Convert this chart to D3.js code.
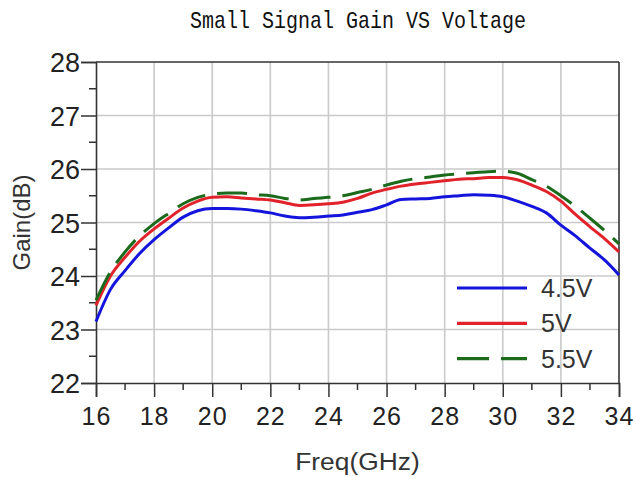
<!DOCTYPE html>
<html>
<head>
<meta charset="utf-8">
<script src="https://cdn.jsdelivr.net/npm/d3@7"></script>
<style>
  body { margin: 0; background: #fff; }
  svg { display: block; }
</style>
</head>
<body>
<div id="chart"></div>
<script>
// data
const freq = [16, 16.5, 17, 17.5, 18, 18.5, 19, 19.5, 20, 20.5, 21, 21.5, 22, 22.5, 23, 23.5, 24, 24.5, 25, 25.5,
              26, 26.5, 27, 27.5, 28, 28.5, 29, 29.5, 30, 30.5, 31, 31.5, 32, 32.5, 33, 33.5, 34];
const gain45 = [23.15, 23.75, 24.1, 24.42, 24.68, 24.9, 25.1, 25.22, 25.26, 25.26, 25.25, 25.22, 25.18, 25.12, 25.09, 25.1, 25.12, 25.14, 25.19, 25.24,
                25.33, 25.43, 25.44, 25.45, 25.48, 25.5, 25.52, 25.51, 25.48, 25.4, 25.3, 25.18, 24.95, 24.75, 24.52, 24.3, 24.02];
const gain5 = [23.45, 24.0, 24.35, 24.65, 24.88, 25.08, 25.27, 25.4, 25.47, 25.48, 25.46, 25.44, 25.42, 25.37, 25.32, 25.33, 25.35, 25.38, 25.45, 25.55,
               25.62, 25.68, 25.72, 25.75, 25.78, 25.81, 25.82, 25.84, 25.84, 25.8, 25.7, 25.58, 25.4, 25.15, 24.92, 24.7, 24.45];
const gain55 = [23.55, 24.08, 24.45, 24.75, 24.98, 25.17, 25.35, 25.47, 25.53, 25.55, 25.55, 25.52, 25.5, 25.45, 25.42, 25.45, 25.47, 25.5, 25.56, 25.62,
                25.7, 25.77, 25.82, 25.85, 25.89, 25.91, 25.93, 25.95, 25.96, 25.92, 25.8, 25.68, 25.5, 25.3, 25.08, 24.85, 24.6];
const seriesNames = ["4.5V", "5V", "5.5V"];
const xTicks = d3.range(16, 35, 2);
const yTicks = d3.range(22, 29, 1);

const width = 636, height = 477;
const margin = {top: 62, right: 17, bottom: 94, left: 96};
const innerW = width - margin.left - margin.right;
const innerH = height - margin.top - margin.bottom;
const font = "Liberation Sans, Arial, sans-serif";

const svg = d3.select("#chart").append("svg")
    .attr("width", width)
    .attr("height", height);

const x = d3.scaleLinear().domain([16, 34]).range([0, innerW]);
const y = d3.scaleLinear().domain([22, 28]).range([innerH, 0]);

const g = svg.append("g").attr("transform", `translate(${margin.left},${margin.top})`);

// grid
g.append("g").selectAll("line").data(xTicks.slice(1, -1)).join("line")
    .attr("x1", d => x(d)).attr("x2", d => x(d))
    .attr("y1", 0).attr("y2", innerH)
    .attr("stroke", "#cacaca").attr("stroke-width", 1.6);
g.append("g").selectAll("line").data(yTicks.slice(1, -1)).join("line")
    .attr("x1", 0).attr("x2", innerW)
    .attr("y1", d => y(d)).attr("y2", d => y(d))
    .attr("stroke", "#cacaca").attr("stroke-width", 1.6);

// minor ticks
g.append("g").selectAll("line").data(d3.range(17, 34, 2)).join("line")
    .attr("x1", d => x(d)).attr("x2", d => x(d))
    .attr("y1", innerH).attr("y2", innerH + 7)
    .attr("stroke", "#333").attr("stroke-width", 1.5);
g.append("g").selectAll("line").data(d3.range(22.5, 28, 1)).join("line")
    .attr("x1", -7).attr("x2", 0)
    .attr("y1", d => y(d)).attr("y2", d => y(d))
    .attr("stroke", "#333").attr("stroke-width", 1.5);

// axes
const xAxis = g.append("g").attr("transform", `translate(0,${innerH})`)
    .call(d3.axisBottom(x).tickValues(xTicks).tickSize(14).tickPadding(10).tickFormat(d3.format("d")));
const yAxis = g.append("g")
    .call(d3.axisLeft(y).tickValues(yTicks).tickSize(15).tickPadding(1).tickFormat(d3.format("d")));

[xAxis, yAxis].forEach(a => {
    a.select(".domain").attr("stroke", "#333").attr("stroke-width", 1.6);
    a.selectAll(".tick line").attr("stroke", "#333").attr("stroke-width", 1.5);
    a.selectAll("text").attr("fill", "#222").style("font-family", font);
});
xAxis.selectAll("text").style("font-size", "25px").style("letter-spacing", "1px");
yAxis.selectAll("text").style("font-size", "27px").attr("dy", "0.36em");

// frame top/right
g.append("line").attr("x1", 0).attr("x2", innerW).attr("y1", 0).attr("y2", 0)
    .attr("stroke", "#333").attr("stroke-width", 1.6);
g.append("line").attr("x1", innerW).attr("x2", innerW).attr("y1", 0).attr("y2", innerH)
    .attr("stroke", "#333").attr("stroke-width", 1.6);

// curves
const series = [
    {name: seriesNames[0], values: gain45, color: "#1414dc", dash: null},
    {name: seriesNames[1], values: gain5, color: "#e2222a", dash: null},
    {name: seriesNames[2], values: gain55, color: "#1c6b1c", dash: "30,12"}
];
const line = d3.line()
    .x((d, i) => x(freq[i]))
    .y(d => y(d))
    .curve(d3.curveMonotoneX);

g.append("g").selectAll("path").data(series).join("path")
    .attr("d", d => line(d.values))
    .attr("fill", "none")
    .attr("stroke", d => d.color)
    .attr("stroke-width", 3)
    .attr("stroke-dasharray", d => d.dash);

// legend
const legend = g.append("g").attr("transform", `translate(${457 - margin.left},${288 - margin.top})`);
series.forEach((s, i) => {
    const row = legend.append("g").attr("transform", `translate(0,${i * 35.3})`);
    row.append("line").attr("x1", 0).attr("x2", 70).attr("y1", 0).attr("y2", 0)
        .attr("stroke", s.color).attr("stroke-width", 3.2)
        .attr("stroke-dasharray", s.dash ? "32,12" : null);
    row.append("text").attr("x", 84).attr("y", 0).attr("dy", "0.36em")
        .attr("fill", "#333")
        .style("font-family", font)
        .style("font-size", "25px")
        .text(s.name);
});

// axis titles
svg.append("text")
    .attr("transform", `translate(${margin.left + innerW / 2},470) scale(1.1,1)`)
    .attr("text-anchor", "middle").attr("fill", "#333")
    .style("font-family", font)
    .style("font-size", "24px")
    .text("Freq(GHz)");
svg.append("text")
    .attr("transform", `translate(30,${margin.top + innerH / 2}) rotate(-90)`)
    .attr("text-anchor", "middle").attr("fill", "#333")
    .style("font-family", font)
    .style("font-size", "24px")
    .text("Gain(dB)");

// title
svg.append("text")
    .attr("transform", "translate(358,28) scale(1,1.2)")
    .attr("text-anchor", "middle").attr("fill", "#111")
    .style("font-family", "Liberation Mono, monospace")
    .style("font-size", "20px")
    .text("Small Signal Gain VS Voltage");
</script>
</body>
</html>
